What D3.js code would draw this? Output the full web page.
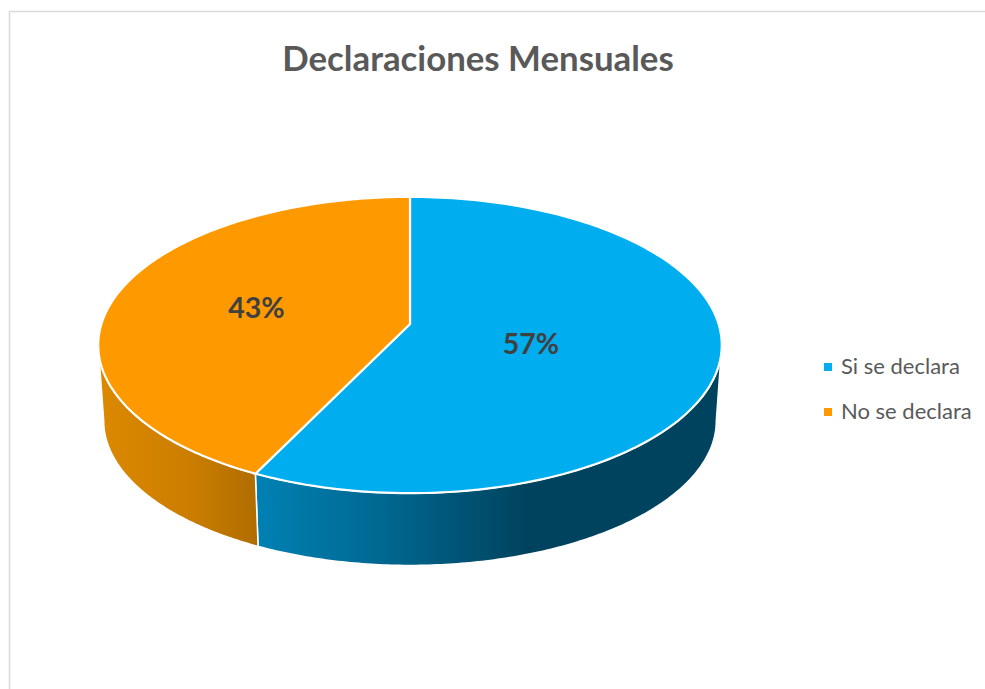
<!DOCTYPE html>
<html><head><meta charset="utf-8">
<script src="https://cdn.jsdelivr.net/npm/d3@7"></script>
<style>html,body{margin:0;padding:0;background:#fff}svg{display:block}text{font-family:Lato,"Open Sans",sans-serif}</style>
</head><body><svg id="c" width="985" height="689"></svg>
<script>
const title = "Declaraciones Mensuales";
const categories = ["Si se declara", "No se declara"];
const values = [57.2, 42.8];
const colors = ["#00aeef", "#ff9900"];

const svg = d3.select("#c");
const W = 985, H = 689;
svg.append("path").attr("d", d3.line()([[9.5,H],[9.5,11.5],[W,11.5]]))
  .attr("fill","none").attr("stroke","#d9d9d9").attr("stroke-width",1.5);

const defs = svg.append("defs");
function grad(id, x1, x2, stops){
  const g = defs.append("linearGradient").attr("id",id).attr("gradientUnits","userSpaceOnUse")
    .attr("x1",x1).attr("x2",x2).attr("y1",0).attr("y2",0);
  stops.forEach(s=>g.append("stop").attr("offset",s[0]).attr("stop-color",s[1]));
}
grad("gBlue",256,722,[[0,"#0081b3"],[0.25,"#006a94"],[0.58,"#00435e"],[1,"#00435e"]]);
grad("gOrange",98,258,[[0,"#dc8900"],[0.55,"#cc7e00"],[1,"#b06d00"]]);

const pie = d3.pie().sort(null).value(d=>d)(values);
const k = -0.1419;
const cx = 410, apexY = 324;
// tilted-disc projection: angle -> screen point
const project = (R, b, a) => t => {
  const u = Math.sin(t), v = -Math.cos(t), w = 1 + k*v;
  return [cx + R*u/w, (b + a*v)/w];
};
const topRim = project(308.6, apexY, 99.2);
const botRim = project(303.2, 400.2, 85);
const line = d3.line();
const sample = (t0,t1,n=160) => d3.range(n+1).map(i=>t0+(t1-t0)*i/n);
const tRight = Math.PI - Math.acos(0.1421), tLeft = Math.PI + Math.acos(0.1421);

// side wall
const gradIds = ["url(#gBlue)","url(#gOrange)"];
pie.forEach((s,i)=>{
  const a = Math.max(s.startAngle, tRight), b = Math.min(s.endAngle, tLeft);
  const ts = sample(a,b);
  const pts = ts.map(topRim).concat(ts.slice().reverse().map(botRim));
  svg.append("path").attr("d",line(pts)+"Z").attr("fill",gradIds[i])
    .attr("stroke","#fff").attr("stroke-width",1.5).attr("stroke-linejoin","round");
});

// top faces
pie.forEach((s,i)=>{
  const pts = sample(s.startAngle,s.endAngle).map(topRim);
  pts.unshift([cx,apexY]);
  svg.append("path").attr("d",line(pts)+"Z").attr("fill",colors[i])
    .attr("stroke","#fff").attr("stroke-width",2.2).attr("stroke-linejoin","miter");
});

// data labels
const labelPos = [[531,343],[256.5,307]];
pie.forEach((s,i)=>{
  svg.append("text").attr("x",labelPos[i][0]).attr("y",labelPos[i][1])
    .attr("text-anchor","middle").attr("dominant-baseline","central")
    .attr("font-size",28.5).attr("font-weight",700).attr("fill","#404040")
    .text(d3.format(".0f")(s.value)+"%");
});

svg.append("text").attr("x",478).attr("y",71).attr("text-anchor","middle")
  .attr("font-size",34.8).attr("font-weight",700).attr("fill","#595959").text(title);

const legendY = d3.scalePoint().domain(categories).range([367,412]);
categories.forEach((c,i)=>{
  svg.append("rect").attr("x",824).attr("y",legendY(c)-4).attr("width",8).attr("height",8).attr("fill",colors[i]);
  svg.append("text").attr("x",841).attr("y",legendY(c)+7).attr("font-size",22).attr("fill","#595959").text(c);
});
</script></body></html>
